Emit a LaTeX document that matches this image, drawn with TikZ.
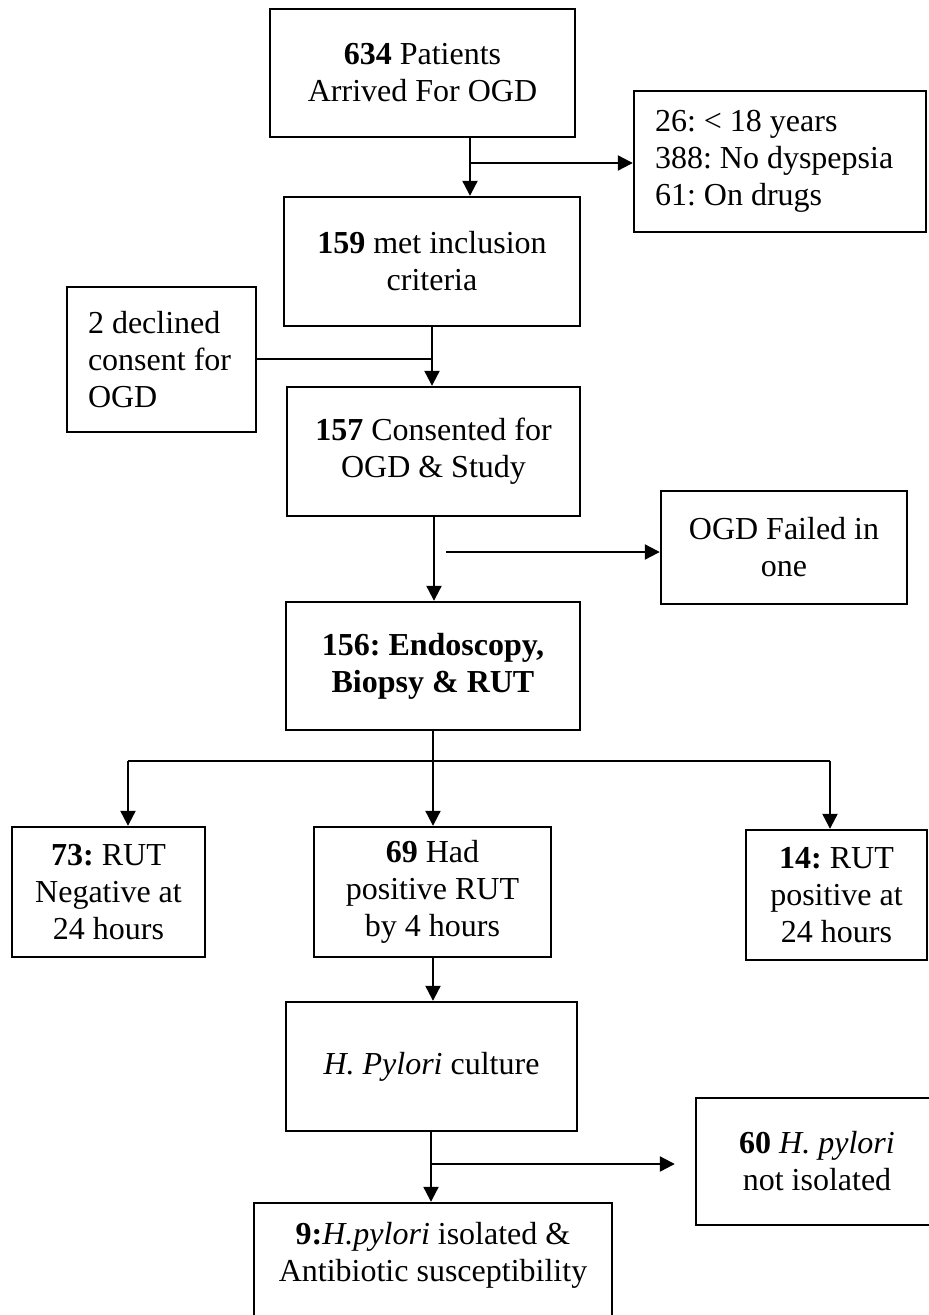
\documentclass[tikz,border=0pt]{standalone}
\usepackage{fontspec}
\setmainfont{Liberation Serif}
\usetikzlibrary{arrows.meta,calc}
\tikzset{
  box/.style={draw, line width=2.4pt, inner sep=0pt, align=center},
  conn/.style={line width=2.2pt},
  arr/.style={line width=2.2pt, -{Triangle[length=15pt,width=15pt]}},
}
\begin{document}
\begin{tikzpicture}[x=1pt,y=-1pt,font=\fontsize{32}{37}\selectfont\frenchspacing]
\useasboundingbox (0,0) rectangle (929,1315);
% boxes
\node[box, minimum width=305pt, minimum height=128pt] (b634) at (422.5,73) {\textbf{634} Patients\\Arrived For OGD};
\node[box, minimum width=292pt, minimum height=141pt, text width=250pt, align=flush left] (excl) at (780,161.5) {26: < 18 years\\388: No dyspepsia\\61: On drugs};
\node[box, minimum width=296pt, minimum height=129pt] (b159) at (432,261.5) {\textbf{159} met inclusion\\criteria};
\node[box, minimum width=189pt, minimum height=145pt, text width=147pt, align=flush left] (declined) at (161.5,359.5) {2 declined\\consent for\\OGD};
\node[box, minimum width=293pt, minimum height=129pt] (b157) at (433.5,451.5) {\textbf{157} Consented for\\OGD \& Study};
\node[box, minimum width=246pt, minimum height=113pt] (ogdfail) at (784,547.5) {OGD Failed in\\one};
\node[box, minimum width=294pt, minimum height=128pt, font=\fontsize{32}{37}\selectfont\frenchspacing\bfseries] (b156) at (433,666) {156: Endoscopy,\\Biopsy \& RUT};
\node[box, minimum width=193pt, minimum height=130pt] (b73) at (108.5,892) {\textbf{73:} RUT\\Negative at\\24 hours};
\node[box, minimum width=237pt, minimum height=130pt] (b69) at (432.5,892) {\textbf{69} Had\\positive RUT\\by 4 hours};
\node[box, minimum width=181pt, minimum height=130pt] (b14) at (836.5,895) {\textbf{14:} RUT\\positive at\\24 hours};
\node[box, minimum width=291pt, minimum height=129pt] (culture) at (431.5,1066.5) {\textit{H. Pylori} culture};
\node[box, minimum width=242pt, minimum height=127pt] (notiso) at (817,1161.5) {\textbf{60} \textit{H. pylori}\\not isolated};
\node[box, minimum width=358pt, minimum height=137pt] (final) at (433,1271.5) {};
\node[align=center, inner sep=0pt, anchor=north] (finaltext) at (433,1222) {\textbf{9:}\textit{H.pylori} isolated \&\\Antibiotic susceptibility};
% connectors
\coordinate (c1) at (470,163);
\draw[arr] (b634.south -| c1) -- (b159.north -| c1);
\draw[arr] (c1) -- (c1 -| excl.west);
\coordinate (c2) at (432,359);
\draw[arr] (b159.south -| c2) -- (b157.north -| c2);
\draw[conn] (declined.east |- c2) -- (c2);
\coordinate (c3) at (446,552);
\coordinate (c3x) at (434,552);
\draw[arr] (b157.south -| c3x) -- (b156.north -| c3x);
\draw[arr] (c3) -- (c3 -| ogdfail.west);
\coordinate (hy) at (433,761);
\coordinate (hl) at (128,761);
\coordinate (hr) at (830,761);
\draw[conn] (b156.south -| hy) -- (hy);
\draw[conn] (hl) -- (hr);
\draw[arr] (hl) -- (hl |- b73.north);
\draw[arr] (hy) -- (hy |- b69.north);
\draw[arr] (hr) -- (hr |- b14.north);
\coordinate (c5) at (433,980);
\draw[arr] (b69.south -| c5) -- (culture.north -| c5);
\coordinate (c4) at (431,1164);
\draw[arr] (culture.south -| c4) -- (final.north -| c4);
\draw[arr, shorten >=20pt] (c4) -- (c4 -| notiso.west);
\end{tikzpicture}
\end{document}
